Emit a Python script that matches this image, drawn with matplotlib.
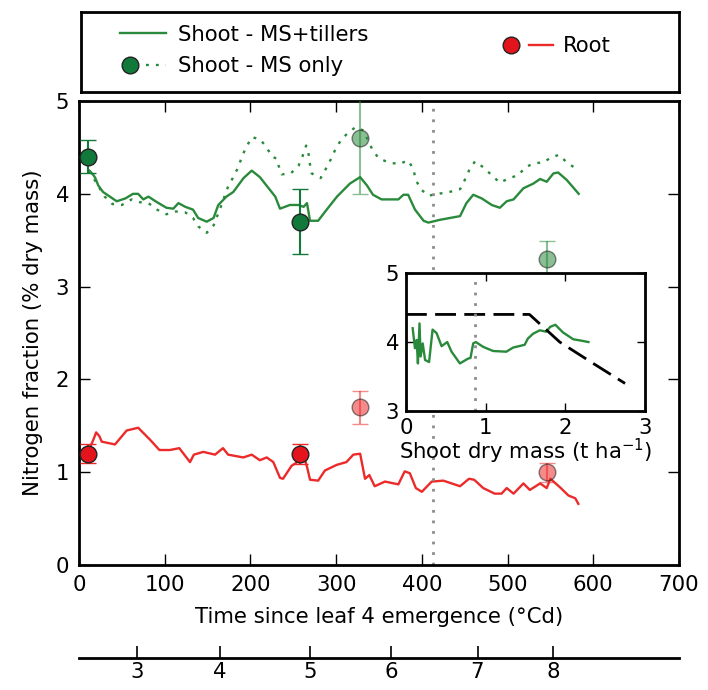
import matplotlib
matplotlib.use("Agg")
import matplotlib.pyplot as plt
from matplotlib.lines import Line2D
from matplotlib.legend_handler import HandlerTuple

# --- simulated N fraction vs thermal time since leaf 4 emergence (°Cd) ---
tillers_tt = [12, 17, 19, 22.5, 28, 44, 54, 63, 69, 75, 81, 91, 102, 110, 116,
              124, 133, 139, 149, 157, 162.5, 172, 180, 192, 201.5, 211, 223, 229,
              234.5, 246, 256, 262, 266, 269.5, 279, 289, 301, 316, 328, 336, 343,
              353, 372.6, 378.5, 384, 392, 402, 407.6, 421, 444.6, 452, 460, 470,
              481.5, 491, 499, 507, 518.5, 530, 538, 545.7, 553.5, 559, 569, 583]
tillers_n = [4.25, 4.20, 4.17, 4.09, 4.02, 3.92, 3.95, 4.00, 4.00, 3.94, 3.97, 3.91,
             3.85, 3.84, 3.90, 3.86, 3.83, 3.74, 3.70, 3.74, 3.88, 3.97, 4.02, 4.17,
             4.25, 4.18, 4.04, 3.97, 3.84, 3.88, 3.88, 3.86, 3.90, 3.71, 3.71, 3.83,
             3.97, 4.11, 4.18, 4.09, 3.99, 3.94, 3.94, 3.99, 3.99, 3.83, 3.71, 3.69,
             3.72, 3.76, 3.90, 3.99, 3.95, 3.88, 3.85, 3.92, 3.94, 4.06, 4.11, 4.16,
             4.13, 4.22, 4.23, 4.15, 4.00]

ms_tt = [12, 17.5, 30, 39, 50, 61.5, 71, 81, 91, 102, 113, 124, 133, 139, 149, 157,
         165, 174, 180, 186, 190, 195, 201.5, 211, 219, 225, 230.6, 232.6, 236.5, 247,
         256, 260.6, 265, 267.6, 268.8, 271.5, 282, 288, 293.7, 298.7, 305, 314, 323,
         332, 342.6, 350, 361, 373, 384, 390, 393, 398.7, 407.6, 419, 432, 444.6,
         449.6, 455, 462, 472.6, 481.5, 491, 502, 512.6, 521, 532, 542.6, 550, 560,
         569, 580]
ms_n = [4.25, 4.16, 3.97, 3.89, 3.88, 3.94, 3.91, 3.90, 3.83, 3.78, 3.81, 3.80, 3.74,
        3.65, 3.58, 3.66, 3.85, 4.08, 4.18, 4.29, 4.40, 4.50, 4.61, 4.59, 4.50, 4.40,
        4.38, 4.31, 4.21, 4.22, 4.30, 4.40, 4.52, 4.45, 4.35, 4.22, 4.17, 4.27, 4.37,
        4.47, 4.57, 4.66, 4.72, 4.68, 4.47, 4.38, 4.34, 4.32, 4.36, 4.27, 4.15, 4.05,
        3.98, 4.00, 4.02, 4.05, 4.14, 4.25, 4.35, 4.28, 4.20, 4.12, 4.17, 4.20, 4.29,
        4.33, 4.34, 4.39, 4.42, 4.34, 4.27]

root_tt = [12, 16.7, 20, 23.7, 26.5, 42, 55.6, 69, 83, 93.8, 106, 117, 129.5, 134,
           145, 158.7, 168, 174, 191.7, 201.5, 211, 219, 226.7, 234.5, 238, 248, 258,
           263.7, 266, 269.5, 279, 287, 300.7, 312, 320, 328, 333.7, 338.7, 345, 357,
           372.6, 380, 386, 393, 400, 411.5, 425, 444.6, 455, 461, 471.6, 485, 493,
           499, 507, 518.5, 526, 538, 545.7, 550, 561, 571, 579, 582.6]
root_n = [1.25, 1.35, 1.43, 1.39, 1.33, 1.30, 1.45, 1.48, 1.35, 1.24, 1.24, 1.26, 1.11,
          1.19, 1.22, 1.19, 1.26, 1.19, 1.16, 1.19, 1.13, 1.16, 1.11, 0.94, 0.93, 1.07,
          1.13, 1.13, 1.06, 0.92, 0.91, 1.02, 1.08, 1.11, 1.19, 1.20, 0.93, 0.97, 0.85,
          0.90, 0.87, 1.01, 0.99, 0.83, 0.79, 0.90, 0.91, 0.85, 0.93, 0.92, 0.83, 0.77,
          0.77, 0.83, 0.77, 0.88, 0.81, 0.88, 0.83, 0.93, 0.84, 0.75, 0.72, 0.66]

# --- observations (mean +/- error) ---
obs_tt_dark = [10, 258]
shoot_obs_dark = [4.40, 3.70]
shoot_err_dark = [0.18, 0.35]
root_obs_dark = [1.20, 1.20]
root_err_dark = [0.10, 0.11]

obs_tt_light = [328, 546]
shoot_obs_light = [4.60, 3.30]
shoot_err_light = [0.60, 0.19]
root_obs_light = [1.70, 1.00]
root_err_light = [0.18, 0.10]

event_tt = 413          # vertical dotted marker

# --- leaf number scale under the main axis ---
leaf_tt = [68, 164, 270, 364, 465, 553]
leaf_no = ["3", "4", "5", "6", "7", "8"]

# --- inset: N fraction vs shoot dry mass ---
inset_mass = [0.084, 0.113, 0.134, 0.15, 0.17, 0.184, 0.21, 0.24, 0.29, 0.334, 0.384,
              0.447, 0.518, 0.572, 0.677, 0.78, 0.81, 0.844, 0.877, 0.969, 1.094,
              1.26, 1.345, 1.49, 1.53, 1.595, 1.68, 1.76, 1.81, 1.875, 1.97, 2.10,
              2.20, 2.29]
inset_n = [4.20, 3.91, 4.03, 3.69, 4.27, 3.79, 3.98, 3.74, 3.71, 4.18, 4.13, 3.94,
           4.00, 3.86, 3.69, 3.76, 3.77, 3.98, 4.00, 3.93, 3.87, 3.86, 3.92, 3.96,
           4.05, 4.12, 4.17, 4.15, 4.22, 4.25, 4.14, 4.04, 4.02, 4.00]
crit_mass = [0, 1.55, 1.93, 2.35, 2.75]
crit_n = [4.4, 4.4, 4.0, 3.69, 3.4]
inset_event_mass = 0.865

GREEN = "#2a8a3c"
DGREEN = "#117a3a"
RED = "#ec2a2a"
DRED = "#e3141c"
GREY = "#8c8c8c"
FS = 15.3
LW = 1.7

plt.rcParams["font.family"] = "DejaVu Sans"
plt.rcParams["font.size"] = FS

fig = plt.figure(figsize=(7.08, 6.9), dpi=100)
ax = fig.add_axes([0.1116, 0.181, 0.8474, 0.6726])

ax.plot(ms_tt, ms_n, color=GREEN, lw=LW, linestyle=(0, (1.2, 3.0)))
ax.plot(tillers_tt, tillers_n, color=GREEN, lw=LW)
ax.plot(root_tt, root_n, color=RED, lw=LW)
ax.axvline(event_tt, color=GREY, lw=2, linestyle=(0, (1, 2.8)))

mk = dict(fmt="o", ms=12, mec="#222222", mew=1, capsize=6, capthick=1.5, elinewidth=1.5)
for y, e, c in [(shoot_obs_light, shoot_err_light, GREEN),
                (root_obs_light, root_err_light, RED)]:
    ax.errorbar(obs_tt_light, y, yerr=e, color=c, mfc=c, ecolor=c, alpha=0.55,
                zorder=4, **mk)
ax.errorbar(obs_tt_dark, shoot_obs_dark, yerr=shoot_err_dark, color=DGREEN,
            mfc=DGREEN, ecolor=DGREEN, zorder=5, **mk)
ax.errorbar(obs_tt_dark, root_obs_dark, yerr=root_err_dark, color=DRED,
            mfc=DRED, ecolor=RED, zorder=5, **mk)

ax.set_xlim(0, 700)
ax.set_ylim(0, 5)
ax.set_xticks(range(0, 701, 100))
ax.set_yticks(range(0, 6))
ax.tick_params(direction="in", top=True, right=True, length=8, width=1,
               labelsize=FS, pad=7)
for s in ax.spines.values():
    s.set_linewidth(2)
ax.set_xlabel("Time since leaf 4 emergence (°Cd)", fontsize=FS, labelpad=9)
ax.set_ylabel("Nitrogen fraction (% dry mass)", fontsize=FS, labelpad=9)

# leaf number scale
lax = fig.add_axes([0.1116, 0.046, 0.8474, 0.001])
lax.set_xlim(0, 700)
lax.set_xticks(leaf_tt, leaf_no)
lax.set_yticks([])
lax.tick_params(direction="in", length=9, width=1.2, labelsize=FS, pad=3)
for k in ("top", "left", "right"):
    lax.spines[k].set_visible(False)
lax.spines["bottom"].set_linewidth(2)
lax.patch.set_visible(False)

# inset
iax = fig.add_axes([0.5734, 0.4043, 0.3376, 0.2])
iax.plot(inset_mass, inset_n, color=GREEN, lw=LW)
iax.plot(crit_mass, crit_n, color="black", lw=2, dashes=(7.5, 3))
iax.axvline(inset_event_mass, color=GREY, lw=2, linestyle=(0, (1, 2.8)))
iax.set_xlim(0, 3)
iax.set_ylim(3, 5)
iax.set_xticks([0, 1, 2, 3])
iax.set_yticks([3, 4, 5])
iax.tick_params(direction="in", top=True, right=True, length=6, width=1,
                labelsize=FS, pad=5)
for s in iax.spines.values():
    s.set_linewidth(2)
iax.set_xlabel("Shoot dry mass (t ha$^{-1}$)", fontsize=FS, labelpad=-1)

# legend box
gax = fig.add_axes([0.114, 0.866, 0.845, 0.117])
gax.set_xticks([])
gax.set_yticks([])
for s in gax.spines.values():
    s.set_linewidth(2)

h_till = Line2D([], [], color=GREEN, lw=LW)
h_ms = (Line2D([], [], ls="", marker="o", ms=12, mfc=DGREEN, mec="#222222"),
        Line2D([], [], color=GREEN, lw=LW, linestyle=(0, (1.2, 3.0))))
h_root = (Line2D([], [], ls="", marker="o", ms=12, mfc=DRED, mec="#222222"),
          Line2D([], [], color=RED, lw=LW))

leg1 = gax.legend([h_till, h_ms], ["Shoot - MS+tillers", "Shoot - MS only"],
                  loc="center left", bbox_to_anchor=(0.065, 0.52), frameon=False,
                  borderpad=0, borderaxespad=0, handlelength=2.2,
                  handletextpad=0.55, labelspacing=0.55, fontsize=FS,
                  handler_map={tuple: HandlerTuple(ndivide=None, pad=0.3)})
gax.add_artist(leg1)
gax.legend([h_root], ["Root"], loc="center left", bbox_to_anchor=(0.700, 0.57),
           frameon=False, borderpad=0, borderaxespad=0, handlelength=2.5,
           handletextpad=0.5, fontsize=FS,
           handler_map={tuple: HandlerTuple(ndivide=None, pad=0.3)})

fig.savefig("out.png", dpi=100)
